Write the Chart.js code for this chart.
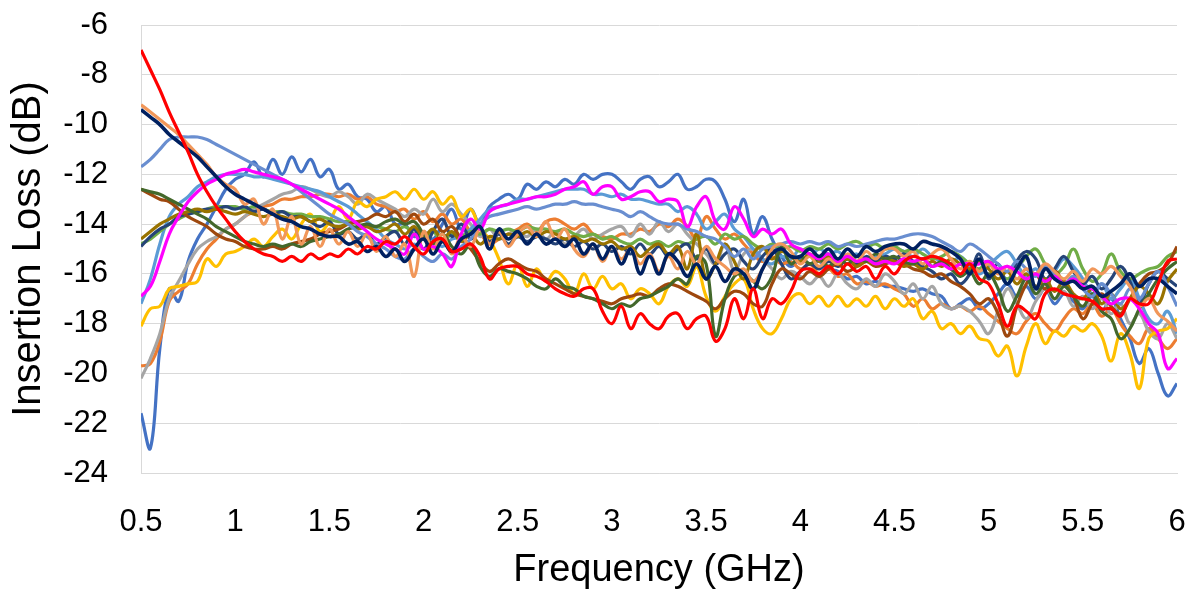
<!DOCTYPE html>
<html>
<head>
<meta charset="utf-8">
<script src="https://cdn.jsdelivr.net/npm/chart.js@4.4.1/dist/chart.umd.min.js"></script>
<style>
  html, body { margin: 0; padding: 0; background: #fff; }
  canvas { display: block; }
</style>
</head>
<body>
<canvas id="lossChart" width="1197" height="590"></canvas>
<script>
// frequency points (GHz)
const freq = [
  0.5, 0.55, 0.6, 0.65, 0.7, 0.75, 0.8, 0.85, 0.9, 0.95,
  1, 1.05, 1.1, 1.15, 1.2, 1.25, 1.3, 1.35, 1.4, 1.45,
  1.5, 1.55, 1.6, 1.65, 1.7, 1.75, 1.8, 1.85, 1.9, 1.95,
  2, 2.05, 2.1, 2.15, 2.2, 2.25, 2.3, 2.35, 2.4, 2.45,
  2.5, 2.55, 2.6, 2.65, 2.7, 2.75, 2.8, 2.85, 2.9, 2.95,
  3, 3.05, 3.1, 3.15, 3.2, 3.25, 3.3, 3.35, 3.4, 3.45,
  3.5, 3.55, 3.6, 3.65, 3.7, 3.75, 3.8, 3.85, 3.9, 3.95,
  4, 4.05, 4.1, 4.15, 4.2, 4.25, 4.3, 4.35, 4.4, 4.45,
  4.5, 4.55, 4.6, 4.65, 4.7, 4.75, 4.8, 4.85, 4.9, 4.95,
  5, 5.05, 5.1, 5.15, 5.2, 5.25, 5.3, 5.35, 5.4, 5.45,
  5.5, 5.55, 5.6, 5.65, 5.7, 5.75, 5.8, 5.85, 5.9, 5.95,
  6
];

// insertion loss (dB), one array per trace
const lossBlue = [
  -21.6, -23.0, -19.0, -16.6, -17.1, -15.5, -14.6, -14.0, -13.3, -12.6,
  -12.2, -12.0, -11.5, -12.1, -11.4, -12.0, -11.3, -11.9, -11.4, -12.1,
  -11.8, -12.6, -12.4, -12.9, -13.0, -13.5, -13.3, -14.0, -14.0, -14.5,
  -14.3, -14.6, -14.0, -13.4, -14.2, -13.4, -14.0, -13.3, -13.0, -12.8,
  -13.0, -12.4, -12.6, -12.3, -12.5, -12.2, -12.4, -12.0, -12.2, -12.0,
  -12.0, -12.3, -12.6, -12.2, -12.1, -12.5, -12.3, -12.0, -12.6, -12.5,
  -12.2, -12.3, -13.0, -13.9, -13.0, -14.4, -13.7, -14.6, -15.3, -15.7,
  -15.4, -15.6, -15.5, -15.8, -15.9, -16.2, -16.1, -16.4, -16.3, -16.5,
  -16.5, -16.6, -16.7, -16.6, -16.8, -16.9, -17.4, -17.2, -17.0, -17.4,
  -17.2, -16.8, -16.4, -16.9, -16.5, -17.0, -16.6, -17.2, -16.8, -17.1,
  -17.4, -16.9, -17.5, -17.0, -17.8, -18.6, -19.6, -19.0, -20.0, -20.9,
  -20.4
];
const lossOrange = [
  -19.7, -19.6, -18.7, -17.1, -16.7, -16.4, -15.6, -15.0, -14.6, -14.2,
  -14.0, -13.7, -13.5, -13.3, -13.2, -13.0, -13.0, -12.9, -12.9, -12.8,
  -12.8, -12.9, -12.8, -13.0, -12.9, -13.2, -13.3, -13.5, -13.4, -13.8,
  -13.5, -13.9, -13.6, -14.0, -13.8, -14.3, -14.4, -14.8, -14.6, -14.4,
  -14.2, -14.0, -14.3, -13.9, -13.8, -14.0, -14.2, -14.0, -14.4, -14.5,
  -14.6, -14.4, -14.4, -14.2, -14.3, -14.0, -14.1, -13.8, -14.1, -14.6,
  -13.7, -14.2, -14.6, -14.4, -14.8, -15.2, -15.5, -15.3, -15.6, -15.5,
  -15.8, -15.6, -16.0, -15.8, -16.1, -16.0, -16.4, -16.3, -16.5, -16.4,
  -16.6, -16.8, -17.3, -17.0, -17.4, -17.2, -17.4, -17.3, -17.5, -17.3,
  -17.6, -17.9, -18.2, -18.4, -17.9, -17.6, -18.0, -18.3, -17.8, -17.4,
  -17.6, -17.2, -17.7, -17.4, -18.0, -18.5, -18.8, -18.2, -18.6, -19.0,
  -18.6
];
const lossGray = [
  -20.2, -19.4, -18.4, -17.0, -16.3, -15.6, -15.0, -14.7, -14.5, -14.2,
  -14.0, -13.7, -13.4, -13.2, -13.0, -12.8, -12.7, -12.5, -12.6, -12.8,
  -12.9, -12.7, -12.9, -13.2, -12.8, -13.0, -13.2, -13.4, -13.7, -13.4,
  -13.6, -13.0, -13.5, -13.2, -13.6, -14.0, -14.5, -14.2, -14.6, -14.4,
  -14.3, -14.5, -14.2, -14.6, -14.3, -14.8, -14.5, -14.2, -14.6, -14.4,
  -14.2, -14.1, -14.5, -14.0, -14.4, -13.9, -14.3, -14.0, -14.4, -14.8,
  -15.2, -15.6, -14.8, -15.9, -15.2, -15.0, -15.4, -15.8, -16.2, -15.9,
  -16.1, -16.4, -16.1, -16.5, -16.0, -16.4, -16.6, -16.2, -16.5, -16.0,
  -16.3, -16.8, -16.4, -17.0, -16.5, -17.2, -17.4, -17.3, -17.5, -17.9,
  -18.4, -17.5, -16.6, -17.2, -17.8, -17.1, -16.6, -17.0, -16.7, -17.3,
  -16.9, -17.4, -17.0, -17.6, -17.2, -18.0, -17.6, -18.3, -18.6, -18.0,
  -18.6
];
const lossYellow = [
  -18.1, -17.4, -17.3, -16.6, -16.5, -16.4, -16.3, -15.4, -15.7, -15.2,
  -15.1, -14.9, -14.6, -14.9, -14.5, -14.2, -14.6, -14.0, -13.6, -14.3,
  -13.9, -13.3, -13.8, -13.1, -13.3, -13.0, -12.9, -12.7, -13.0, -12.6,
  -13.0, -12.7, -13.2, -12.9, -13.7, -13.4, -14.2, -14.6, -15.4, -16.4,
  -15.6, -16.5, -15.8, -16.3, -15.9, -16.2, -16.8, -16.0, -16.6, -16.1,
  -16.6, -16.4, -17.0, -16.6, -16.8, -17.2, -16.5, -16.2, -16.5, -15.7,
  -16.9, -17.5, -16.9, -16.4, -16.2, -17.4, -18.2, -18.4, -17.8, -17.0,
  -16.8, -17.2, -16.9, -17.3, -16.9, -17.3, -17.0, -17.3, -16.9, -17.4,
  -17.0, -17.3, -17.0, -17.8, -17.5, -18.2, -18.0, -18.4, -18.1, -18.6,
  -18.7, -19.3, -18.9, -20.1, -18.9, -18.0, -18.8, -18.3, -18.5, -18.1,
  -18.3, -18.0, -18.5, -19.5, -18.4, -19.2, -20.6, -18.6, -18.3, -18.2,
  -17.8
];
const lossLightBlue = [
  -17.2, -16.2, -14.8, -13.7, -13.2, -12.9, -12.5, -12.3, -12.1, -12.0,
  -12.0, -12.0, -12.1, -12.1, -12.2, -12.3, -12.4, -12.5, -12.6, -12.7,
  -12.9, -13.1, -13.3, -13.6, -13.9, -14.2, -14.6, -14.8, -15.0, -14.8,
  -15.0, -14.7, -14.9, -14.6, -14.5, -14.2, -13.8, -13.4, -13.3, -13.2,
  -13.0, -13.0, -12.9, -12.8, -12.7, -12.6, -12.6, -12.6, -12.8, -12.8,
  -12.9, -12.8, -13.0, -13.0, -13.1, -13.2, -13.2, -13.5, -13.3, -13.6,
  -14.2, -13.9, -13.6, -14.2, -14.5, -15.0, -15.4, -15.6, -15.3, -15.4,
  -15.0, -15.3, -15.0, -15.2, -15.1, -15.4, -15.2, -15.5, -15.3, -15.2,
  -15.0, -15.1, -15.3, -15.0, -15.3, -15.5, -15.6, -15.3, -15.7, -16.0,
  -15.7, -15.3, -15.1, -15.6, -16.1, -15.8, -16.3, -15.9, -15.4, -15.7,
  -16.2, -16.8, -16.4, -17.0, -16.6, -16.2, -17.0, -17.8, -18.0, -17.5,
  -18.4
];
const lossGreen = [
  -14.8, -14.6, -14.3, -14.0, -13.8, -13.6, -13.5, -13.4, -13.3, -13.3,
  -13.3, -13.4, -13.3, -13.4, -13.5, -13.5, -13.6, -13.6, -13.7, -13.7,
  -13.8, -13.9, -13.9, -14.0, -14.1, -14.1, -14.2, -14.3, -14.1, -14.4,
  -14.6, -14.3, -14.7, -14.4, -14.5, -14.3, -14.4, -14.2, -14.3, -14.2,
  -14.3, -14.1, -14.2, -14.2, -14.3, -14.2, -14.4, -14.5, -14.4, -14.6,
  -14.5, -14.7, -14.8, -14.6, -14.8, -14.7, -14.9, -14.7, -14.8, -14.6,
  -14.5, -14.8, -14.4, -14.6, -14.5, -14.8, -15.0, -14.8, -15.0, -14.9,
  -15.1, -14.9, -15.0, -14.8, -15.0, -14.8, -14.7, -14.9, -14.8, -15.0,
  -14.9, -15.1, -15.0, -15.2, -15.4, -15.3, -15.1, -15.3, -15.6, -15.8,
  -15.5, -15.9, -16.2, -15.8, -15.3, -15.0, -15.6, -16.0, -15.7, -15.0,
  -15.8, -16.3, -16.0, -15.2, -15.9, -16.2, -16.0, -15.8, -15.7, -15.3,
  -15.1
];
const lossDarkBlue = [
  -14.9, -14.5, -14.2, -14.0, -13.7, -13.6, -13.5, -13.4, -13.4, -13.3,
  -13.4, -13.3, -13.5, -13.4, -13.6, -13.5, -13.7, -13.7, -13.9, -14.1,
  -13.9, -14.4, -14.3, -14.6, -14.4, -14.8, -14.5, -14.3, -14.8, -14.2,
  -15.0, -14.3, -13.8, -14.5, -14.0, -14.6, -14.2, -14.7, -14.4, -14.8,
  -14.5, -14.7, -14.5, -14.6, -14.8, -14.6, -14.9, -14.7, -15.0, -14.8,
  -15.1, -14.9, -15.2, -14.8, -15.2, -14.9, -15.3, -15.0, -14.8, -15.4,
  -15.0, -15.6, -15.2, -15.0, -15.5, -15.8, -15.3, -15.0, -15.6, -16.2,
  -15.9, -15.6, -15.8, -15.5, -15.7, -15.4, -15.6, -15.3, -15.5, -15.3,
  -15.4, -15.2, -15.5, -15.7, -15.9, -16.2, -16.0, -16.4, -16.0, -15.2,
  -16.2, -15.6, -16.4, -15.5, -15.1, -15.4, -16.2, -15.8, -15.3, -15.9,
  -16.4, -16.1, -16.6, -16.2, -15.7, -16.3, -17.2, -16.4, -15.9, -16.2,
  -16.5
];
const lossBrown = [
  -12.6, -12.8, -13.0, -13.1, -13.4, -13.7, -13.9, -14.1, -14.4, -14.6,
  -14.7, -14.9, -15.0, -15.0, -14.9, -15.0, -14.8, -14.7, -14.6, -14.4,
  -14.3, -14.2, -14.0, -13.9, -13.8, -13.6, -13.7, -13.5, -13.9, -13.6,
  -14.0, -13.8, -14.3, -14.1, -14.6, -15.0, -15.5, -15.9, -15.6, -15.4,
  -15.6, -15.8, -15.9, -16.2, -16.4, -16.6, -16.8, -16.9, -17.0, -17.1,
  -17.2, -17.0, -16.9, -16.8, -16.9, -16.6, -16.4, -16.5, -16.7, -16.9,
  -17.1, -17.4, -17.0, -16.7, -16.8, -17.2, -17.3, -16.4, -15.8, -16.0,
  -16.2, -15.9, -16.1, -15.8, -15.6, -15.9, -15.7, -15.5, -15.7, -15.6,
  -15.5, -15.6, -15.8, -15.9, -16.1, -16.0, -16.3, -16.5, -16.8, -17.2,
  -17.0, -17.6, -18.5, -17.3, -16.4, -16.0, -16.6, -15.9, -16.4, -16.9,
  -17.8, -17.2, -16.8, -17.3, -17.6, -17.0, -16.4, -16.0, -15.9, -15.6,
  -14.9
];
const lossOlive = [
  -14.6, -14.3, -14.0, -13.8, -13.6, -13.5, -13.4, -13.5, -13.4, -13.5,
  -13.6, -13.5, -13.6, -13.7, -13.6, -13.7, -13.8, -13.7, -13.9, -13.8,
  -14.0, -14.1, -14.0, -14.2, -14.1, -14.3, -14.2, -14.0, -14.4, -14.1,
  -14.5, -14.2, -14.6, -14.3, -14.7, -14.4, -14.8, -14.5, -14.6, -14.4,
  -14.5, -14.3, -14.5, -14.3, -14.4, -14.6, -14.5, -14.7, -14.6, -14.8,
  -14.7, -15.0, -14.9, -15.3, -15.0, -14.8, -15.2, -14.9, -15.8, -14.4,
  -16.2, -15.6, -14.8, -15.5, -16.2, -15.2, -14.9, -15.4, -15.1, -15.3,
  -15.5, -15.2, -15.5, -15.3, -15.6, -15.4, -15.7, -15.5, -15.6, -15.4,
  -15.5, -15.7, -15.6, -15.8, -15.5, -15.7, -15.4, -15.6, -15.8, -15.5,
  -15.8, -16.2, -15.9, -16.4, -16.0, -16.5, -16.2, -16.7, -16.3, -16.8,
  -17.0, -16.6, -17.2, -16.8, -17.4, -17.0, -16.5, -16.8, -17.2, -16.3,
  -15.8
];
const lossDarkGreen = [
  -12.6, -12.7, -12.8, -13.0, -13.2, -13.4, -13.6, -13.8, -14.1, -14.3,
  -14.5, -14.7, -14.8, -14.9, -14.8, -14.9, -14.8, -14.9, -14.7, -14.6,
  -14.5, -14.4, -14.2, -14.1, -14.0, -14.1, -13.9, -13.8, -14.0, -13.9,
  -14.4, -14.8, -14.4, -14.9, -15.2, -14.8, -15.7, -16.1, -15.8, -15.9,
  -16.0, -16.2, -16.5, -16.6, -16.2, -16.5, -16.6, -16.9, -17.0, -17.2,
  -17.4, -17.2, -17.3, -17.0, -16.9, -16.7, -16.5, -16.2, -16.4, -15.3,
  -15.6, -18.5, -17.0, -16.1, -16.0, -16.3, -16.6, -16.1, -14.9, -15.6,
  -15.3, -15.6, -15.4, -15.7, -15.4, -15.6, -15.3, -15.5, -15.2, -15.4,
  -15.3, -15.5, -15.6, -15.4, -15.7, -15.5, -15.8, -16.1, -15.9, -16.4,
  -16.0, -16.6, -17.5, -16.9, -16.2, -16.8, -16.4, -17.0, -16.5, -16.9,
  -17.3, -16.8, -17.5, -17.8, -18.6, -18.2, -17.4, -16.8, -16.2, -15.8,
  -15.5
];
const lossSteel = [
  -11.7, -11.4, -11.0, -10.6, -10.5, -10.5, -10.5, -10.6, -10.8, -11.0,
  -11.2, -11.4, -11.6, -11.8, -12.0, -12.2, -12.4, -12.7, -13.0, -13.3,
  -13.6, -13.8, -14.0, -14.3, -14.5, -14.8, -15.0, -15.3, -15.4, -15.0,
  -15.3, -15.5, -15.2, -15.4, -14.9, -14.6, -14.0, -13.7, -13.6, -13.5,
  -13.4, -13.3, -13.4, -13.3, -13.2, -13.2, -13.1, -13.2, -13.2, -13.3,
  -13.4, -13.5, -13.7, -13.5, -13.7, -13.9, -14.0, -14.0, -14.2, -14.3,
  -14.5, -14.6, -14.9, -15.3, -15.0, -15.4, -15.0, -14.9, -14.8, -14.7,
  -14.8, -14.7, -14.8, -14.7, -14.9, -14.8, -14.9, -14.8, -14.7, -14.6,
  -14.6, -14.5, -14.4, -14.4, -14.5, -14.7, -14.9, -15.1, -14.8, -15.0,
  -15.3, -15.6, -15.9, -15.5, -15.8, -16.1, -15.7, -16.0, -16.4, -16.1,
  -16.6, -16.9, -16.4, -16.8, -17.2, -16.6, -17.0, -16.4, -15.9, -16.5,
  -17.3
];
const lossPeach = [
  -9.2, -9.5, -9.8, -10.1, -10.4, -10.8, -11.2, -11.6, -12.1, -12.4,
  -12.6, -13.2, -13.0, -14.0, -13.4, -14.6, -13.7, -14.8, -14.1, -14.9,
  -14.2, -14.8, -14.3, -14.9, -14.4, -15.1, -14.5, -15.3, -14.8, -16.1,
  -14.3, -15.0, -14.4, -15.2, -14.5, -14.9, -14.2, -14.8, -14.3, -14.9,
  -14.4, -14.1, -14.5, -13.9, -14.6, -14.2, -15.0, -15.3, -14.8, -15.5,
  -14.9, -15.4, -15.0, -15.6, -15.2, -15.9, -15.3, -15.8, -15.1, -15.6,
  -14.9, -15.4, -15.7, -16.0, -15.8, -16.3, -15.8, -15.0, -14.8, -15.1,
  -15.6, -15.3, -15.7, -15.4, -15.6, -15.2, -15.5, -15.1, -15.4, -15.0,
  -15.0, -15.3, -15.1, -15.6, -15.2, -15.0, -15.4, -15.8, -15.5, -15.9,
  -15.6, -16.0, -15.7, -16.2, -15.8, -16.0, -15.6, -15.9, -16.2, -15.9,
  -16.3, -15.8, -16.0, -15.7, -16.1, -16.5, -17.3, -17.0, -17.6, -17.9,
  -18.3
];
const lossMagenta = [
  -16.9, -16.5, -15.5, -14.4, -13.7, -13.1, -12.7, -12.4, -12.2, -12.0,
  -11.9, -11.8, -11.9, -12.0, -12.1, -12.2, -12.4, -12.6, -12.8, -13.0,
  -13.2, -13.4, -13.7, -14.0, -14.3, -14.6, -14.8, -15.0, -15.2, -14.4,
  -15.0, -14.9, -15.2, -15.7, -14.4, -13.8, -14.2, -13.5, -13.3, -13.2,
  -13.1, -13.0, -12.9, -12.9, -12.8, -12.6, -12.5, -12.3, -12.8, -12.5,
  -12.5, -13.0, -12.9, -12.7, -12.7, -13.1, -13.0, -13.1, -14.1, -13.3,
  -12.9, -13.9, -14.2, -13.3, -13.8, -14.5, -14.2, -14.4, -14.2, -14.8,
  -15.0, -15.2, -15.4, -15.2, -15.5, -15.3, -15.5, -15.4, -15.6, -15.5,
  -15.6, -15.4, -15.5, -15.4, -15.7, -15.6, -15.8, -15.6, -15.6, -15.6,
  -15.5, -15.8, -15.7, -15.9, -16.2, -16.0, -16.3, -16.1, -16.4, -16.2,
  -16.5, -16.6, -16.9, -17.2, -17.0, -17.0, -17.4, -18.0, -18.4, -19.8,
  -19.4
];
const lossNavy = [
  -9.4, -9.7, -10.0, -10.4, -10.7, -11.0, -11.3, -11.7, -12.1, -12.5,
  -12.8, -13.0, -13.2, -13.4, -13.6, -13.8, -13.9, -14.1, -14.2, -14.4,
  -14.5, -14.5, -14.8, -14.7, -15.1, -14.9, -15.3, -15.0, -15.5, -15.0,
  -14.6, -15.2, -14.7, -15.1, -14.6, -14.4, -14.1, -15.0, -14.2, -14.6,
  -14.3, -14.8, -14.4, -14.8, -14.6, -14.9, -14.6, -15.2, -14.8, -15.4,
  -14.9, -15.6, -15.0, -16.0, -15.3, -16.0, -15.2, -15.5, -16.1, -15.6,
  -16.2, -15.7, -16.3, -15.8, -16.0, -16.6, -15.8, -15.2, -15.0, -15.3,
  -15.3, -15.0, -15.3, -15.0, -15.4, -15.0, -15.3, -14.9, -15.1, -14.9,
  -14.8, -14.8, -15.0, -14.7, -14.8, -14.9, -15.1, -15.4, -16.0, -15.4,
  -16.1, -15.9, -16.4, -15.8, -15.3, -16.6, -15.8, -16.2, -16.4, -16.3,
  -16.6, -16.5, -16.9, -16.7, -16.4, -16.0, -16.5, -16.2, -16.2, -16.5,
  -16.8
];
const lossRed = [
  -7.0, -7.8, -8.6, -9.5, -10.3, -11.1, -12.0, -12.7, -13.3, -13.8,
  -14.3, -14.7, -15.0, -15.2, -15.3, -15.5, -15.3, -15.5, -15.2, -15.4,
  -15.2, -15.3, -15.0, -15.2, -14.9, -15.0, -14.7, -14.8, -14.5, -14.9,
  -15.2, -14.7, -14.6, -15.1, -15.0, -14.8, -15.3, -16.2, -15.8, -15.7,
  -15.7, -16.0, -16.1, -16.3, -16.6, -16.8, -16.9, -16.6, -16.6, -17.5,
  -18.0, -17.3, -18.2, -17.6, -18.0, -18.2, -17.7, -17.6, -18.2, -17.8,
  -17.7, -18.7, -18.2, -17.0, -17.8, -16.6, -17.8, -17.0, -17.2, -16.7,
  -15.9, -15.8, -16.0, -15.7, -16.0, -15.6, -15.9, -15.7, -16.2, -15.7,
  -16.0, -15.5, -15.3, -15.4, -15.3, -15.4, -15.6, -16.0, -15.6, -16.2,
  -16.4, -17.2, -18.1, -17.3, -17.5, -17.8, -16.8, -16.6, -16.8, -16.9,
  -17.0, -17.1, -17.4, -17.4, -17.7, -17.0, -17.2, -17.2, -16.4, -15.5,
  -15.4
];

// y axis ticks
const yTicks = [-6, -8, -10, -12, -14, -16, -18, -20, -22, -24];

// drawn bottom to top
const traces = [
  { values: lossBlue,      color: '#4472C4', width: 3.2 },
  { values: lossOrange,    color: '#ED7D31', width: 3.2 },
  { values: lossGray,      color: '#A5A5A5', width: 3.2 },
  { values: lossYellow,    color: '#FFC000', width: 3.2 },
  { values: lossLightBlue, color: '#5B9BD5', width: 3.2 },
  { values: lossGreen,     color: '#70AD47', width: 3.2 },
  { values: lossDarkBlue,  color: '#264478', width: 3.2 },
  { values: lossBrown,     color: '#9E480E', width: 3.2 },
  { values: lossOlive,     color: '#997300', width: 3.2 },
  { values: lossDarkGreen, color: '#43682B', width: 3.2 },
  { values: lossSteel,     color: '#698ED0', width: 3.2 },
  { values: lossPeach,     color: '#F1975A', width: 3.2 },
  { values: lossMagenta,   color: '#FF00FF', width: 3.2 },
  { values: lossNavy,      color: '#002060', width: 3.6 },
  { values: lossRed,       color: '#FF0000', width: 3.2 }
];

traces.forEach(t => {
  if (t.values.length !== freq.length) throw new Error('length mismatch ' + t.color + ' ' + t.values.length);
});

const fontFamily = '"Liberation Sans", Arial, sans-serif';
const ctx = document.getElementById('lossChart').getContext('2d');

new Chart(ctx, {
  type: 'line',
  data: {
    datasets: traces.map((t, i) => ({
      data: freq.map((f, k) => ({ x: f, y: t.values[k] })),
      borderColor: t.color,
      borderWidth: t.width,
      pointRadius: 0,
      tension: 0.4,
      fill: false,
      order: traces.length - i
    }))
  },
  options: {
    responsive: false,
    animation: false,
    events: [],
    layout: { padding: { top: 25, right: 20, left: 0, bottom: 0 } },
    plugins: { legend: { display: false }, tooltip: { enabled: false } },
    scales: {
      x: {
        type: 'linear',
        min: 0.5,
        max: 6,
        ticks: {
          stepSize: 0.5,
          padding: 31,
          color: '#000',
          font: { family: fontFamily, size: 31 },
          callback: v => String(v)
        },
        grid: { display: false, drawTicks: false },
        border: { color: '#D9D9D9', width: 1 },
        title: {
          display: true,
          text: 'Frequency (GHz)',
          color: '#000',
          font: { family: fontFamily, size: 38, lineHeight: 1.0 },
          padding: { top: 0, bottom: 0 }
        },
        afterFit: s => {
          s.height = 117;
          s.paddingLeft = 0;
          s.paddingRight = 0;
        }
      },
      y: {
        min: -24,
        max: -6,
        afterBuildTicks: s => { s.ticks = yTicks.map(v => ({ value: v })); },
        ticks: {
          padding: 33,
          color: '#000',
          font: { family: fontFamily, size: 31 },
          callback: v => String(v)
        },
        grid: { color: '#D9D9D9', lineWidth: 1, drawTicks: false },
        border: { color: '#D9D9D9', width: 1 },
        title: {
          display: true,
          text: 'Insertion Loss (dB)',
          color: '#000',
          font: { family: fontFamily, size: 40, lineHeight: 1.0 },
          padding: { top: 9, bottom: 0 }
        },
        afterFit: s => {
          s.width = 141;
          s.paddingTop = 0;
          s.paddingBottom = 0;
        }
      }
    }
  }
});
</script>
</body>
</html>
